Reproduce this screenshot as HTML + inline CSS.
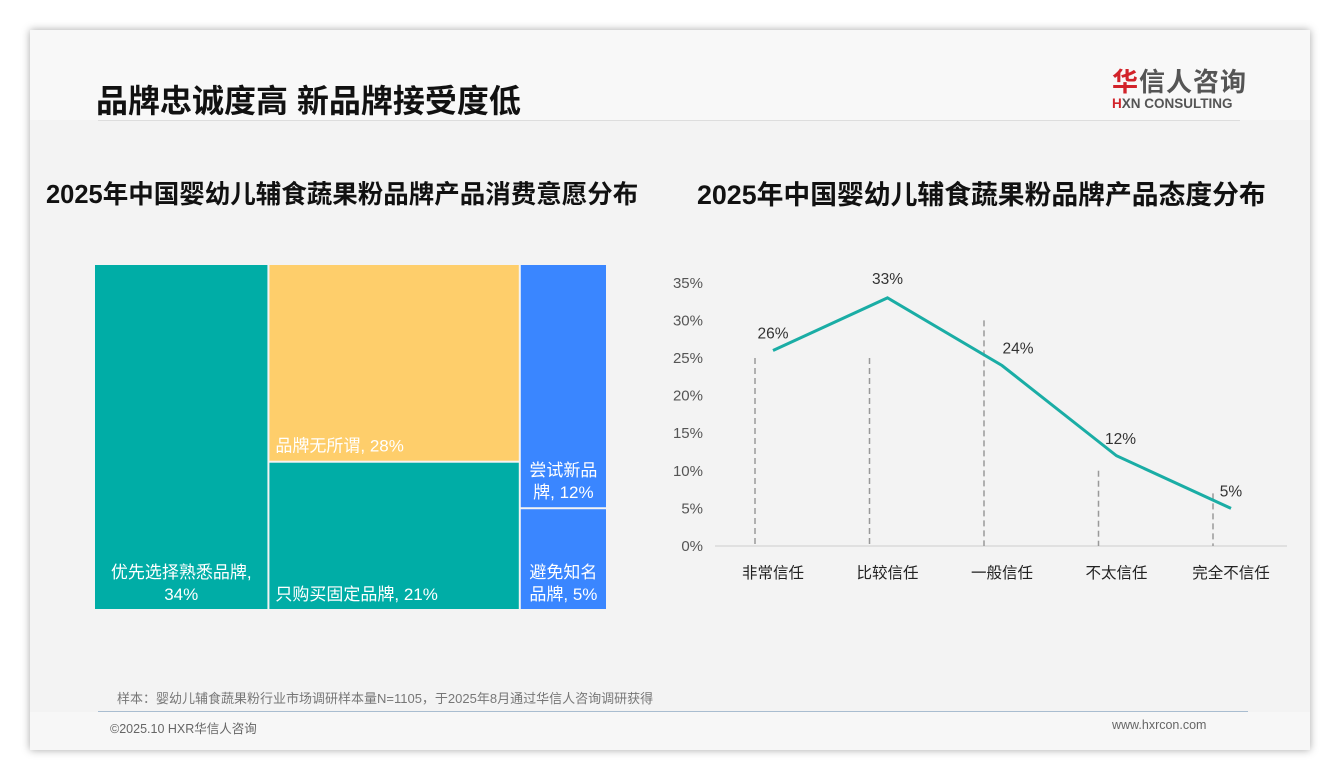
<!DOCTYPE html>
<html><head><meta charset="utf-8">
<style>
body{margin:0;width:1340px;height:780px;background:#fff;font-family:"Liberation Sans","Noto Sans CJK SC",sans-serif;position:relative;overflow:hidden}
.card{position:absolute;left:30px;top:30px;width:1280px;height:720px;background:#f3f3f3;box-shadow:0 0 8px rgba(0,0,0,.35)}
.abs{position:absolute}
</style></head><body>
<div class="card">
<div class="abs" style="left:0;top:0;width:1280px;height:90px;background:#f8f8f8"></div>
<div class="abs" style="left:66px;top:46px;font-size:32px;font-weight:bold;color:#111">品牌忠诚度高 新品牌接受度低</div>
<div class="abs" style="left:68px;top:90px;width:1142px;height:1px;background:#ddd"></div>
<div class="abs" style="left:1082px;top:32px;width:140px">
<div style="font-size:26px;font-weight:bold;color:#555;letter-spacing:1px"><span style="color:#d2232a">华</span>信人咨询</div>
<div style="font-size:13.5px;font-weight:bold;color:#555;margin-top:-3px"><span style="color:#d2232a">H</span>XN CONSULTING</div>
</div>
<div class="abs" style="left:16px;top:144px;font-size:25.5px;font-weight:bold;color:#111;white-space:nowrap">2025年中国婴幼儿辅食蔬果粉品牌产品消费意愿分布</div>
<div class="abs" style="left:667px;top:143px;font-size:26.8px;font-weight:bold;color:#111;white-space:nowrap">2025年中国婴幼儿辅食蔬果粉品牌产品态度分布</div>
<div class="abs" style="left:87px;top:658px;font-size:13px;color:#777;white-space:nowrap">样本：婴幼儿辅食蔬果粉行业市场调研样本量N=1105，于2025年8月通过华信人咨询调研获得</div>
<div class="abs" style="left:68px;top:681px;width:1150px;height:1px;background:#a9bdd0"></div>
<div class="abs" style="left:0;top:682px;width:1280px;height:38px;background:#f7f7f7"></div>
<div class="abs" style="left:80px;top:688px;font-size:12.5px;color:#666">©2025.10 HXR华信人咨询</div>
<div class="abs" style="left:1082px;top:688px;font-size:12.5px;color:#666">www.hxrcon.com</div>
</div>
<svg class="abs" style="left:0;top:0" width="1340" height="780">
<g id="tree"></g><g id="line"></g>
</svg>
<script>
const NS="http://www.w3.org/2000/svg";
function mk(p,t,a){const e=document.createElementNS(NS,t);for(const k in a)e.setAttribute(k,a[k]);p.appendChild(e);return e;}
// treemap data
const treeLabels=["优先选择熟悉品牌","品牌无所谓","只购买固定品牌","尝试新品牌","避免知名品牌"];
const treeValues=[34,28,21,12,5];
const treeColumns=[[0],[1,2],[3,4]];
const treeColors=["#00ADA6","#FECE6B","#00ADA6","#3A86FF","#3A86FF"];
const tg=document.getElementById('tree');
const TX=95,TY=265,TW=513,TH=346,gap=2;
const tot=treeValues.reduce((a,b)=>a+b,0);
let cx=TX;
treeColumns.forEach(col=>{
  const cs=col.reduce((a,i)=>a+treeValues[i],0);
  const w=TW*cs/tot;let cy=TY;
  col.forEach(i=>{
    const h=TH*treeValues[i]/cs;
    const r=mk(tg,'rect',{x:cx,y:cy,width:w-gap,height:h-gap,fill:treeColors[i]});
    
    
    const t=mk(tg,'text',{fill:'#fff','font-size':17,'font-family':'Liberation Sans, Noto Sans CJK SC, sans-serif'});
    
    
    const full=treeLabels[i]+", "+treeValues[i]+"%";
    const chars=Math.floor((w-12)/17);
    if(full.length*9.5+treeLabels[i].length*7.5<=w-10){
      mk(t,'tspan',{x:cx+6,y:cy+h-gap-9}).textContent=full;
    }else{
      const lab=treeLabels[i];
      let l1,l2;
      if(lab.length<=chars){l1=lab+",";l2=treeValues[i]+"%";}
      else{l1=lab.slice(0,chars);l2=lab.slice(chars)+", "+treeValues[i]+"%";}
      const mid=cx+(w-gap)/2;
      t.setAttribute('text-anchor','middle');
      mk(t,'tspan',{x:mid,y:cy+h-gap-31}).textContent=l1;
      mk(t,'tspan',{x:mid,y:cy+h-gap-9}).textContent=l2;
    }
    cy+=h;
  });
  cx+=w;
});
// line chart data
const cats=["非常信任","比较信任","一般信任","不太信任","完全不信任"];
const vals=[26,33,24,12,5];
const dashTops=[25,25,30,10,7];
const yTicks=[0,5,10,15,20,25,30,35];
const lg=document.getElementById('line');
const y0=546,pxPer=7.52,X0=773,XS=114.5;
const ys=v=>y0-v*pxPer, xs=i=>X0+i*XS;
yTicks.forEach(v=>{const t=mk(lg,'text',{x:703,y:ys(v)+5,'text-anchor':'end','font-size':15,fill:'#555'});
t.textContent=v+'%';});
const ax=mk(lg,'line',{x1:715,y1:y0,x2:1287,y2:y0,stroke:'#ccc','stroke-width':1});

cats.forEach((c,i)=>{
  const d=mk(lg,'line',{x1:xs(i)-18,x2:xs(i)-18,y1:ys(dashTops[i]),y2:y0,stroke:'#999','stroke-width':1.5,'stroke-dasharray':'6,4'});
  
  const t=mk(lg,'text',{x:xs(i),y:578,'text-anchor':'middle','font-size':15.5,fill:'#222'});
  t.textContent=c;
});
const p=mk(lg,'polyline',{points:vals.map((v,i)=>xs(i)+','+ys(v)).join(' '),fill:'none',stroke:'#1AADA5','stroke-width':3});

const lblOff=[[0,-12],[0,-14],[16,-12],[4,-12],[0,-12]];
vals.forEach((v,i)=>{const t=mk(lg,'text',{x:xs(i)+lblOff[i][0],y:ys(v)+lblOff[i][1],'text-anchor':'middle','font-size':15.5,fill:'#333'});
t.textContent=v+'%';});
</script>
</body></html>
